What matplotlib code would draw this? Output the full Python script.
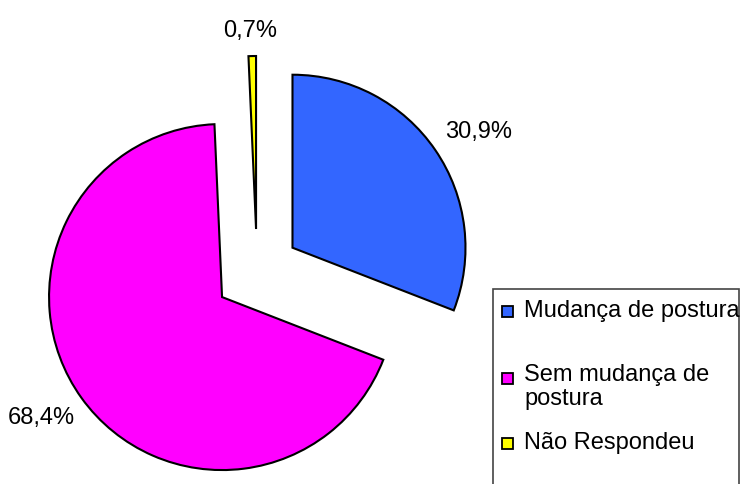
import matplotlib.pyplot as plt
from matplotlib.patches import Rectangle

plt.rcParams['font.family'] = ['Liberation Sans', 'DejaVu Sans']

# dados
categorias = ['Mudança de postura', 'Sem mudança de\npostura', 'Não Respondeu']
valores = [30.9, 68.4, 0.7]
cores = ['#3366FF', '#FF00FF', '#FFFF00']

W, H = 742, 484
fig = plt.figure(figsize=(W / 100, H / 100), dpi=100)
ax = fig.add_axes([0, 0, 1, 1])

# explode em unidades absolutas (pixels)
wedges, textos, pct = ax.pie(
    valores, colors=cores, startangle=90, counterclock=False,
    center=(257, H - 272), radius=173, explode=[43, 43, 43],
    autopct=lambda p: ('%.1f%%' % p).replace('.', ','),
    pctdistance=1.25, frame=True,
    wedgeprops={'edgecolor': 'black', 'linewidth': 1.5},
    textprops={'fontsize': 17})
ax.set_xlim(0, W)
ax.set_ylim(0, H)
ax.set_aspect('equal')
ax.axis('off')

# pequenos ajustes na posição dos percentuais
for t, (dx, dy) in zip(pct, [(8, -6), (-5, 5), (-1, -18)]):
    x, y = t.get_position()
    t.set_position((x + dx, y + dy))

# caixa da legenda (cortada na borda)
ax.add_patch(Rectangle((493, -20), 246, H - 289 + 20, fill=False,
                       edgecolor='#444444', linewidth=1.2, clip_on=False))
ys = [311, 378, 443]
for yy, c, lab in zip(ys, cores, categorias):
    ax.add_patch(Rectangle((502, H - yy - 5.5), 11, 11, facecolor=c,
                           edgecolor='black', linewidth=1.3))
    if '\n' in lab:
        ax.text(524, H - 364, lab, fontsize=17, va='top', ha='left',
                linespacing=1.1)
    else:
        ax.text(524, H - yy, lab, fontsize=17, va='center', ha='left')

fig.savefig('out.png', dpi=100)
